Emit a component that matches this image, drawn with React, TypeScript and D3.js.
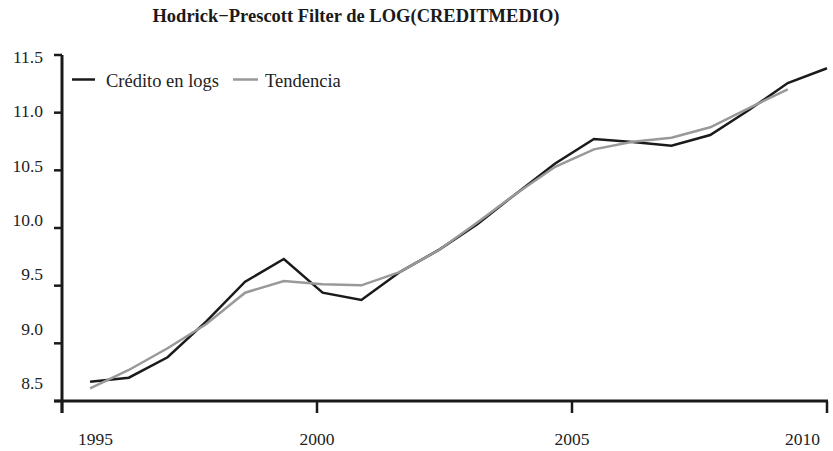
import React from "react";
import * as d3 from "d3";

const TITLE = "Hodrick\u2212Prescott Filter de LOG(CREDITMEDIO)";
const SERIES_NAMES = ["Crédito en logs", "Tendencia"];

// observation dates (decimal years)
const dates = [
  1995.55, 1996.31, 1997.07, 1997.83, 1998.59, 1999.35, 2000.11, 2000.87,
  2001.63, 2002.39, 2003.15, 2003.91, 2004.67, 2005.43, 2006.19, 2006.95,
  2007.71, 2008.47, 2009.23, 2010.0,
];

const credito = [
  8.667, 8.702, 8.879, 9.19, 9.534, 9.731, 9.439, 9.376, 9.62, 9.81, 10.035,
  10.3, 10.56, 10.772, 10.746, 10.714, 10.806, 11.023, 11.257, 11.385,
];

const tendencia = [
  8.61, 8.769, 8.957, 9.168, 9.439, 9.54, 9.512, 9.503, 9.62, 9.809, 10.05,
  10.3, 10.531, 10.682, 10.748, 10.783, 10.873, 11.04, 11.203,
];

const yTicks = [8.5, 9.0, 9.5, 10.0, 10.5, 11.0, 11.5];
const xTicks = [1995, 2000, 2005, 2010];

const W = 833;
const H = 451;
const FONT = '"Liberation Serif", "Times New Roman", Times, "DejaVu Serif", serif';

export default function App() {
  const x = d3.scaleLinear().domain([1995, 2010]).range([62, 827]);
  const y = d3.scaleLinear().domain([8.5, 11.5]).range([401, 55]);
  const yLabel = d3.scaleLinear().domain([8.5, 11.5]).range([383, 57]);

  const line = d3
    .line<number>()
    .x((_, i) => x(dates[i]))
    .y((d) => y(d));

  const axisColor = "#1a1a1a";
  const txt = { fontFamily: FONT };

  return (
    <svg
      width={W}
      height={H}
      style={{ position: "absolute", left: 0, top: 0, background: "#fff", fontFamily: FONT }}
    >
      <text
        x={356}
        y={22}
        textAnchor="middle"
        fontWeight="bold"
        fontSize={18.5}
        fill="#1a1a1a"
        style={txt}
      >
        {TITLE}
      </text>

      {/* y axis */}
      <line x1={62} x2={62} y1={y(11.5)} y2={413} stroke={axisColor} strokeWidth={3} />
      {yTicks.map((t) => (
        <g key={t}>
          <line x1={54} x2={62} y1={y(t)} y2={y(t)} stroke={axisColor} strokeWidth={2.5} />
          <text
            x={43}
            y={yLabel(t)}
            dy="0.35em"
            textAnchor="end"
            fontSize={17.5}
            fill="#222"
            style={txt}
          >
            {t.toFixed(1)}
          </text>
        </g>
      ))}

      {/* x axis */}
      <line x1={54} x2={828} y1={401} y2={401} stroke={axisColor} strokeWidth={3} />
      {xTicks.map((t, i) => {
        const anchor = i === 0 ? "start" : i === xTicks.length - 1 ? "end" : "middle";
        const lx = i === 0 ? x(t) + 16 : i === xTicks.length - 1 ? x(t) - 7 : x(t);
        return (
          <g key={t}>
            <line x1={x(t)} x2={x(t)} y1={401} y2={413} stroke={axisColor} strokeWidth={2.5} />
            <text x={lx} y={445} textAnchor={anchor} fontSize={17.5} fill="#222" style={txt}>
              {t}
            </text>
          </g>
        );
      })}

      {/* series */}
      <path d={line(credito) ?? ""} fill="none" stroke="#1a1a1a" strokeWidth={2.5} strokeLinejoin="miter" />
      <path d={line(tendencia) ?? ""} fill="none" stroke="#999999" strokeWidth={2.5} strokeLinejoin="miter" />

      {/* legend */}
      <line x1={72} x2={95} y1={79.5} y2={79.5} stroke="#1a1a1a" strokeWidth={2.5} />
      <text x={106} y={86.5} fontSize={18.5} fill="#222" style={txt}>
        {SERIES_NAMES[0]}
      </text>
      <line x1={233} x2={258} y1={79.5} y2={79.5} stroke="#999999" strokeWidth={2.5} />
      <text x={265} y={86.5} fontSize={18.5} fill="#222" style={txt}>
        {SERIES_NAMES[1]}
      </text>
    </svg>
  );
}
